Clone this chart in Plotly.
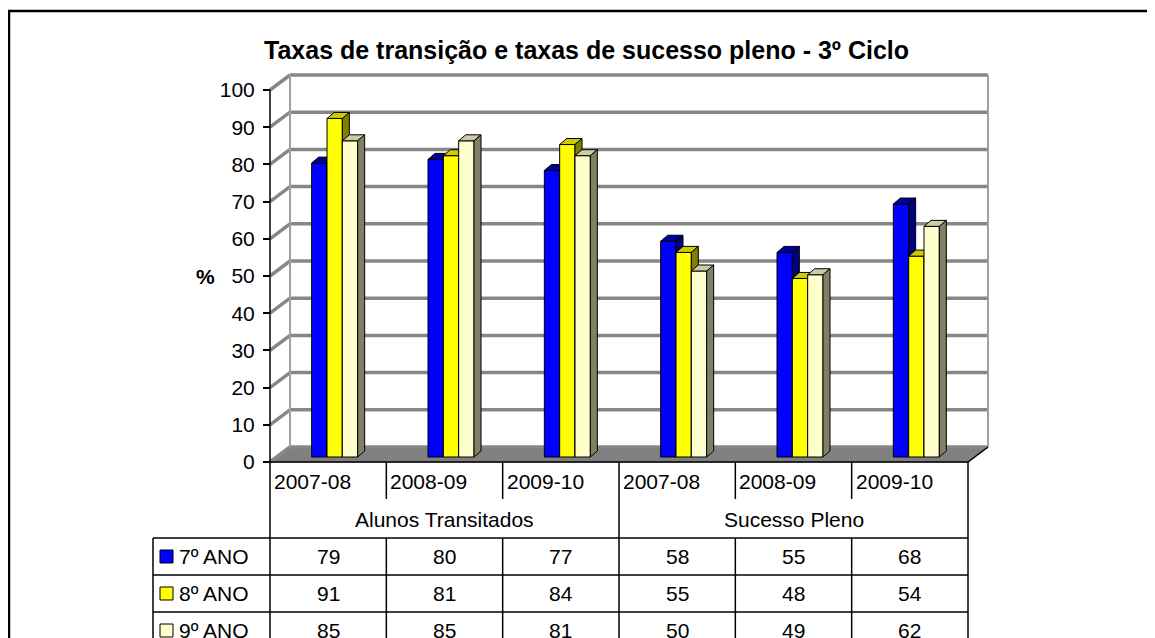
import plotly.graph_objects as go

# ---------------- data ----------------
title_text = "Taxas de transição e taxas de sucesso pleno - 3º Ciclo"
group_labels = ["Alunos Transitados", "Sucesso Pleno"]
years = ["2007-08", "2008-09", "2009-10"]
categories = years + years
series_names = ["7º ANO", "8º ANO", "9º ANO"]
ano7 = [79, 80, 77, 58, 55, 68]
ano8 = [91, 81, 84, 55, 48, 54]
ano9 = [85, 85, 81, 50, 49, 62]
y_ticks = [0, 10, 20, 30, 40, 50, 60, 70, 80, 90, 100]
y_title = "%"

series_values = [ano7, ano8, ano9]
face_colors = [
    ("#0000FF", "#00009A", "#000080"),
    ("#FFFF00", "#CCCC00", "#808000"),
    ("#FFFFCC", "#CCCCA3", "#808066"),
]

# ---------------- layout geometry (pixels of the 1155x638 page) ----------------
PAGE_W, PAGE_H = 1155, 638
BODY_MARGIN = 8            # default html body margin
W, H = PAGE_W - BODY_MARGIN, PAGE_H - BODY_MARGIN
LEFT_PX, RIGHT_PX, FLOOR_PX, TOP_PX = 270, 968, 462, 90
n = len(categories)
CAT_PX = (RIGHT_PX - LEFT_PX) / n
UNIT_PX = (FLOOR_PX - TOP_PX) / 100.0


def xp(p):
    return -0.5 + (p - LEFT_PX) / CAT_PX


def yp(p):
    return (FLOOR_PX - p) / UNIT_PX


def dxp(p):
    return p / CAT_PX


def dyp(p):
    return p / UNIT_PX


def paper_x(p):
    return (p - BODY_MARGIN) / W


def paper_y(p):
    return 1 - (p - BODY_MARGIN) / H


WALL_DX, WALL_DY = 20, 15
BAR_W = 46 / 3.0
BAR_SHIFT_X, BAR_SHIFT_Y = 6.5, 5
BAR_DX, BAR_DY = 7, 6

FONT = "Arial, Liberation Sans, Arimo, sans-serif"

fig = go.Figure()

# ---------------- 3D bars ----------------
for s, vals in enumerate(series_values):
    fr_x, fr_y, tp_x, tp_y, sd_x, sd_y = [], [], [], [], [], []
    for i, v in enumerate(vals):
        cx = i + dxp(BAR_SHIFT_X) + (s - 1) * dxp(BAR_W)
        L = cx - dxp(BAR_W) / 2
        R = cx + dxp(BAR_W) / 2
        B = dyp(BAR_SHIFT_Y)
        T = B + v
        ddx, ddy = dxp(BAR_DX), dyp(BAR_DY)
        fr_x += [L, R, R, L, L, None]
        fr_y += [B, B, T, T, B, None]
        tp_x += [L, R, R + ddx, L + ddx, L, None]
        tp_y += [T, T, T + ddy, T + ddy, T, None]
        sd_x += [R, R, R + ddx, R + ddx, R, None]
        sd_y += [B, T, T + ddy, B + ddy, B, None]
    for xs, ys, col in [(fr_x, fr_y, face_colors[s][0]),
                        (tp_x, tp_y, face_colors[s][1]),
                        (sd_x, sd_y, face_colors[s][2])]:
        fig.add_trace(go.Scatter(
            x=xs, y=ys, mode="lines", fill="toself", fillcolor=col,
            line=dict(color="black", width=1), showlegend=False,
            hoverinfo="skip", name=series_names[s]))

shapes = []
# floor
fx0, fx1 = -0.5, n - 0.5
fdx, fdy = dxp(WALL_DX), dyp(WALL_DY)
shapes.append(dict(
    type="path", xref="x", yref="y", layer="below",
    path=f"M {fx0},0 L {fx1},0 L {fx1 + fdx},{fdy} L {fx0 + fdx},{fdy} Z",
    fillcolor="#808080", line=dict(color="#6e6e6e", width=1)))
# gridlines on side wall + back wall
for v in y_ticks:
    shapes.append(dict(type="line", xref="x", yref="y", layer="below",
                       x0=fx0, y0=v, x1=fx0 + fdx, y1=v + fdy,
                       line=dict(color="#878787", width=3.5)))
    shapes.append(dict(type="line", xref="x", yref="y", layer="below",
                       x0=fx0 + fdx, y0=v + fdy, x1=fx1 + fdx, y1=v + fdy,
                       line=dict(color="#878787", width=3.5)))
# wall back edges
for xx in (fx0 + fdx, fx1 + fdx):
    shapes.append(dict(type="line", xref="x", yref="y", layer="below",
                       x0=xx, y0=fdy, x1=xx, y1=100 + fdy,
                       line=dict(color="#a0a0a0", width=2)))

# ---------------- table ----------------
ROW_CAT_END = yp(499)
ROW_LINES = [yp(538), yp(575), yp(612), yp(649)]
BOTTOM = yp(PAGE_H + 10)
LEG_LEFT = xp(153)
blk = dict(color="black", width=1.5)

shapes.append(dict(type="line", xref="x", yref="y", x0=fx0, y0=100, x1=fx0, y1=BOTTOM, line=blk))
shapes.append(dict(type="line", xref="x", yref="y", x0=fx0, y0=0, x1=fx1, y1=0, line=blk))
shapes.append(dict(type="line", xref="x", yref="y", x0=fx1, y0=0, x1=fx1 + fdx, y1=fdy, line=blk))
for k in range(1, n + 1):
    xx = k - 0.5
    if k in (3, n):
        shapes.append(dict(type="line", xref="x", yref="y", x0=xx, y0=0, x1=xx, y1=BOTTOM, line=blk))
    else:
        shapes.append(dict(type="line", xref="x", yref="y", x0=xx, y0=0, x1=xx, y1=ROW_CAT_END, line=blk))
        shapes.append(dict(type="line", xref="x", yref="y", x0=xx, y0=ROW_LINES[0], x1=xx, y1=BOTTOM, line=blk))
shapes.append(dict(type="line", xref="x", yref="y", x0=LEG_LEFT, y0=ROW_LINES[0], x1=LEG_LEFT, y1=BOTTOM, line=blk))
for yy in ROW_LINES:
    shapes.append(dict(type="line", xref="x", yref="y", x0=LEG_LEFT, y0=yy, x1=fx1, y1=yy, line=blk))

annotations = []
tfont = dict(family=FONT, size=21, color="black")
for i, c in enumerate(categories):
    annotations.append(dict(x=i - 0.5 + dxp(2), y=yp(481), xref="x", yref="y",
                            text=c, showarrow=False, xanchor="left", yanchor="middle", font=tfont))
for g, lab in enumerate(group_labels):
    annotations.append(dict(x=g * 3 + 1, y=yp(519), xref="x", yref="y",
                            text=lab, showarrow=False, xanchor="center", yanchor="middle", font=tfont))
for s, vals in enumerate(series_values):
    yc = (ROW_LINES[s] + ROW_LINES[s + 1]) / 2
    for i, v in enumerate(vals):
        annotations.append(dict(x=i, y=yc, xref="x", yref="y", text=str(v), showarrow=False,
                                xanchor="center", yanchor="middle", font=tfont))
    shapes.append(dict(type="rect", xref="x", yref="y",
                       x0=xp(160), x1=xp(173), y0=yc - dyp(6.5), y1=yc + dyp(6.5),
                       fillcolor=face_colors[s][0], line=dict(color="black", width=1)))
    annotations.append(dict(x=xp(177), y=yc, xref="x", yref="y", text=series_names[s],
                            showarrow=False, xanchor="left", yanchor="middle", font=tfont))

annotations.append(dict(x=xp(205), y=yp(276), xref="x", yref="y", text="<b>%s</b>" % y_title,
                        showarrow=False, xanchor="center", yanchor="middle",
                        font=dict(family=FONT, size=21, color="black")))
annotations.append(dict(x=paper_x(586), y=paper_y(50), xref="paper", yref="paper",
                        text="<b>%s</b>" % title_text, showarrow=False,
                        xanchor="center", yanchor="middle",
                        font=dict(family=FONT, size=25, color="black")))

shapes.append(dict(type="rect", xref="paper", yref="paper",
                   x0=paper_x(9), y0=-0.05, x1=1.05, y1=paper_y(11),
                   line=dict(color="black", width=2.5), fillcolor="rgba(0,0,0,0)"))

fig.update_layout(
    width=W, height=H, autosize=False,
    margin=dict(l=0, r=0, t=0, b=0),
    paper_bgcolor="white", plot_bgcolor="white",
    showlegend=False,
    shapes=shapes, annotations=annotations,
    xaxis=dict(range=[xp(BODY_MARGIN), xp(PAGE_W)], visible=False, fixedrange=True),
    yaxis=dict(range=[yp(PAGE_H), yp(BODY_MARGIN)], anchor="free",
               position=paper_x(LEFT_PX),
               tickvals=y_ticks, ticktext=[str(t) for t in y_ticks],
               ticks="outside", ticklen=7, tickwidth=1.5, tickcolor="black",
               showgrid=False, zeroline=False, showline=False,
               tickfont=dict(family=FONT, size=21, color="black"),
               ticklabelstandoff=4, automargin=False, fixedrange=True),
)

fig.write_html("out.html")
